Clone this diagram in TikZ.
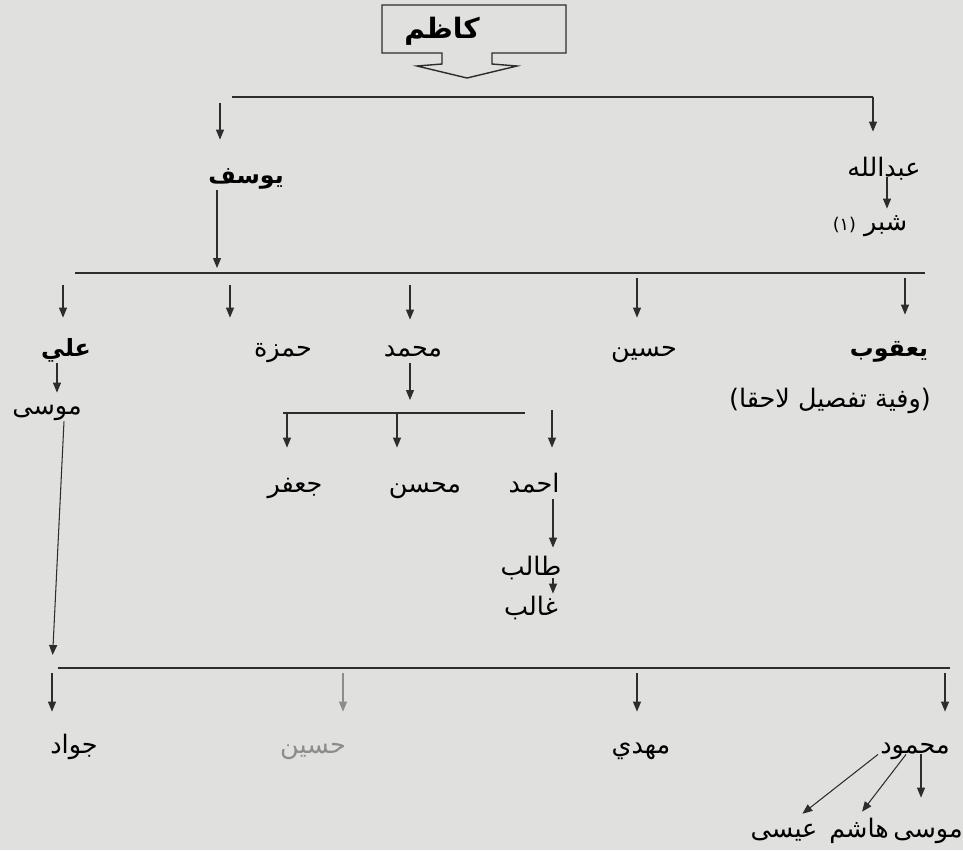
\documentclass[tikz,border=0pt]{standalone}
\usepackage{fontspec}
\usepackage{tikz}
\usetikzlibrary{arrows.meta,calc}
\newfontfamily\arabicfont[Script=Arabic]{DejaVu Sans}
\TeXXeTstate=1
\newcommand{\rtl}[1]{\beginR #1\endR}
\definecolor{paper}{RGB}{224,224,222}
\definecolor{ink}{RGB}{45,45,45}

\begin{document}
\begin{tikzpicture}[x=0.02cm, y=-0.02cm,
  person/.style={font=\arabicfont\fontsize{14.5}{16}\selectfont, inner sep=0pt, text=black,
    text height=12pt, text depth=4pt},
  bperson/.style={person, font=\arabicfont\bfseries\fontsize{13.5}{15}\selectfont},
  faded/.style={text=black!45},
  bar/.style={draw=ink, line width=0.6pt},
  arr/.style={-{Triangle[length=2mm,width=1.6mm]}, draw=ink, line width=0.6pt}
]
\fill[paper] (0,0) rectangle (963,850);
\useasboundingbox (0,0) rectangle (963,850);

\draw[ink, line width=0.8pt] (382,5) -- (566,5) -- (566,53) -- (492,53) -- (492,64) -- (517,66)
  -- (467,78) -- (417,66) -- (442,64) -- (442,53) -- (382,53) -- cycle;
\node[bperson, font=\arabicfont\bfseries\fontsize{16}{18}\selectfont] (kazim) at (442,31) {\rtl{كاظم}};

\coordinate (b1l) at (232,97);
\coordinate (b1r) at (873,97);
\coordinate (c11) at (220,103);
\draw[bar] (b1l) -- (b1r);

\node[bperson] (yusuf)    at (246,176) {\rtl{يوسف}};
\node[person]  (abdallah) at (884,169) {\rtl{عبدالله}};
\node[person]  (shubbar)  at (870,223) {\rtl{شبر {\fontsize{10}{12}\selectfont(١)}}};
\draw[arr, shorten >=4.4mm] (c11) -- (c11 |- yusuf.north);
\draw[arr, shorten >=4.6mm] (b1r) -- (b1r |- abdallah.north);
\draw[arr] ($(abdallah.south)+(3,-6)$) coordinate (s1) -- (s1 |- shubbar.north);

\coordinate (b2l) at (75,273);
\coordinate (b2r) at (925,273);
\draw[bar] (b2l) -- (b2r);
\draw[arr, shorten >=1mm] ($(yusuf.south)+(-29,0)$) coordinate (s2) -- (s2 |- b2l);

\coordinate (c21) at (63,285);
\coordinate (c22) at (230,285);
\coordinate (c23) at (410,285);
\coordinate (c24) at (637,278);
\coordinate (c25) at (905,278);
\node[bperson] (ali)      at (66,349)  {\rtl{علي}};
\node[person]  (hamza)    at (283,349) {\rtl{حمزة}};
\node[person]  (muhammad) at (413,349) {\rtl{محمد}};
\node[person]  (husayn)   at (644,349) {\rtl{حسين}};
\node[bperson] (yaqub)    at (889,349) {\rtl{يعقوب}};
\node[person]  (note)     at (830,400) {\rtl{(وفية تفصيل لاحقا)}};
\draw[arr, shorten >=3.4mm] (c21) -- (c21 |- ali.north);
\draw[arr, shorten >=3.4mm] (c22) -- (c22 |- hamza.north);
\draw[arr, shorten >=3mm]   (c23) -- (c23 |- muhammad.north);
\draw[arr, shorten >=3.4mm] (c24) -- (c24 |- husayn.north);
\draw[arr, shorten >=4mm]   (c25) -- (c25 |- yaqub.north);

\node[person] (musa) at (47,407) {\rtl{موسى}};
\draw[arr] ($(ali.south)+(-9,0)$) coordinate (s3) -- (s3 |- musa.north);

\coordinate (b3l) at (283,413);
\coordinate (b3r) at (525,413);
\draw[bar] (b3l) -- (b3r);
\draw[arr, shorten >=2.6mm] ($(muhammad.south)+(-3,0)$) coordinate (s4) -- (s4 |- b3l);

\coordinate (c31) at (287,413);
\coordinate (c32) at (397,413);
\coordinate (c33) at (552,410);
\node[person] (jafar)  at (295,485) {\rtl{جعفر}};
\node[person] (muhsin) at (425,485) {\rtl{محسن}};
\node[person] (ahmad)  at (534,485) {\rtl{احمد}};
\draw[arr, shorten >=4.6mm] (c31) -- (c31 |- jafar.north);
\draw[arr, shorten >=4.6mm] (c32) -- (c32 |- muhsin.north);
\draw[arr, shorten >=4.6mm] (c33) -- (c33 |- ahmad.north);

\node[person] (talib)  at (531,568) {\rtl{طالب}};
\node[person] (ghalib) at (531,608) {\rtl{غالب}};
\draw[arr, shorten >=1.2mm] ($(ahmad.south)+(19,0)$) coordinate (s5) -- (s5 |- talib.north);
\draw[arr] ($(talib.south)+(22,-4)$) coordinate (s6) -- (s6 |- ghalib.north);

\coordinate (b4l) at (58,668);
\coordinate (b4r) at (950,668);
\draw[bar] (b4l) -- (b4r);
\coordinate (c41) at (52,673);
\coordinate (c42) at (343,673);
\coordinate (c43) at (637,673);
\coordinate (c44) at (945,673);
\draw[arr, shorten >=2.6mm] ($(musa.south)+(17,0)$) -- (c41 |- b4l);

\node[person]        (jawad)   at (74,746)  {\rtl{جواد}};
\node[person, faded] (husayn2) at (313,746) {\rtl{حسين}};
\node[person]        (mahdi)   at (641,746) {\rtl{مهدي}};
\node[person]        (mahmud)  at (915,746) {\rtl{محمود}};
\draw[arr, shorten >=4mm] (c41) -- (c41 |- jawad.north);
\draw[arr, draw=black!45, shorten >=4mm] (c42) -- (c42 |- husayn2.north);
\draw[arr, shorten >=4mm] (c43) -- (c43 |- mahdi.north);
\draw[arr, shorten >=4mm] (c44) -- (c44 |- mahmud.north);

\node[person] (musa2)  at (928,830) {\rtl{موسى}};
\node[person] (hashim) at (859,830) {\rtl{هاشم}};
\node[person] (isa)    at (784,830) {\rtl{عيسى}};
\draw[arr, shorten >=0.6mm] ($(mahmud.south)+(-37,-6)$) -- ($(isa.north)+(16,0)$);
\draw[arr, shorten >=1mm] ($(mahmud.south)+(-9,-6)$) -- (hashim.north);
\draw[arr, shorten >=3.6mm] ($(mahmud.south)+(6,-6)$) coordinate (s7) -- (s7 |- musa2.north);
\end{tikzpicture}
\end{document}
